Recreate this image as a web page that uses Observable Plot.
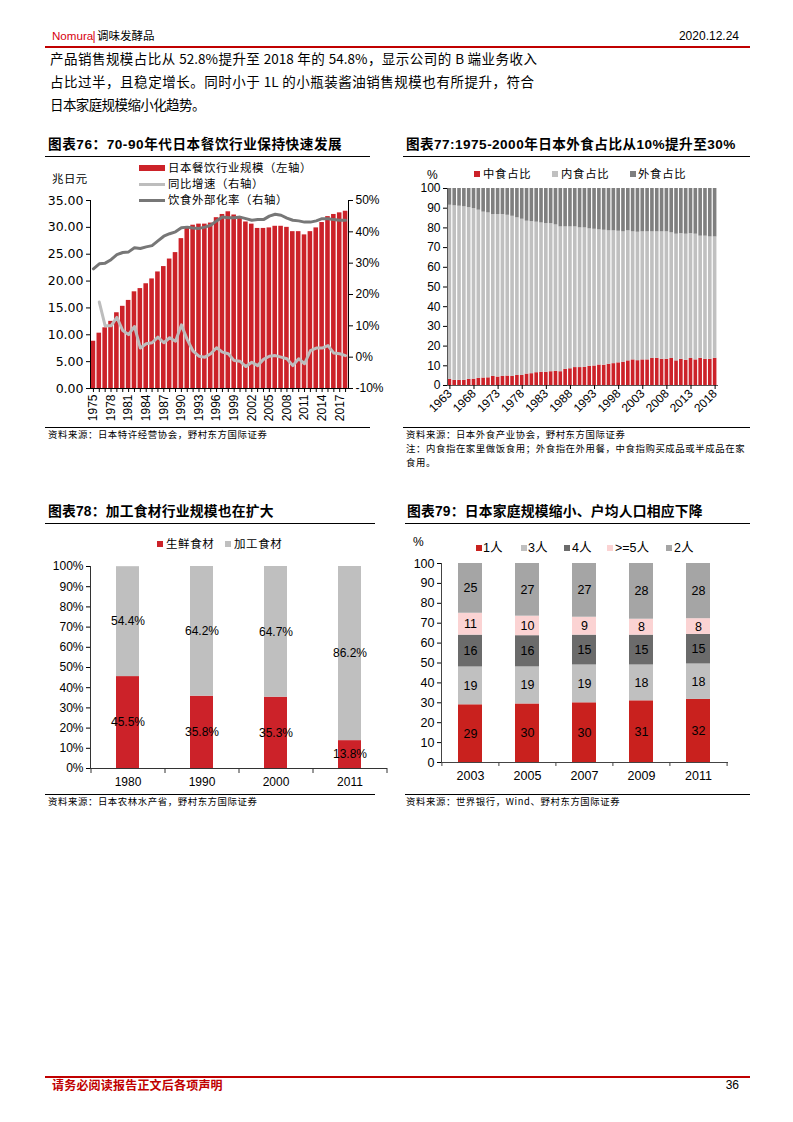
<!DOCTYPE html>
<html><head><meta charset="utf-8">
<script src="https://cdn.jsdelivr.net/npm/d3@7"></script>
<script src="https://cdn.jsdelivr.net/npm/@observablehq/plot@0.6"></script>
<style>
body{margin:0;background:#fff;}
#page{position:relative;width:793px;height:1122px;overflow:hidden;font-family:"Noto Sans CJK SC",sans-serif;color:#000;}
.abs{position:absolute;white-space:nowrap;line-height:1;}
.sw{position:absolute;}
.plotwrap{position:absolute;}
.plotwrap svg{max-width:none !important;overflow:visible;}
</style></head><body><div id="page"></div>
<script>
// ---------- Chart 76 data ----------
const years76 = [1975,1976,1977,1978,1979,1980,1981,1982,1983,1984,1985,1986,1987,1988,1989,1990,1991,1992,1993,1994,1995,1996,1997,1998,1999,2000,2001,2002,2003,2004,2005,2006,2007,2008,2009,2010,2011,2012,2013,2014,2015,2016,2017,2018];
const years76Lab = [1975,1978,1981,1984,1987,1990,1993,1996,1999,2002,2005,2008,2011,2014,2017];
const scale76 = [8.8,10.3,11.3,12.5,14.1,15.3,16.4,18.0,18.6,19.5,20.4,21.7,22.7,24.1,25.3,27.9,29.8,30.4,30.6,30.6,30.8,31.8,32.4,32.9,32.3,32.0,31.0,30.6,29.8,29.8,29.9,30.2,30.2,30.0,29.2,29.2,28.6,29.2,29.9,30.9,32.0,32.4,32.7,33.0];
const growth76 = [null,17.6,10.0,10.0,12.7,8.5,7.2,9.8,2.9,4.3,4.6,6.4,4.6,6.2,5.1,10.3,5.6,1.9,0.3,0.0,1.1,3.0,1.6,1.1,-1.1,-1.3,-3.0,-1.6,-2.7,-0.7,0.3,0.5,0.0,-0.5,-2.7,-0.5,-2.1,2.1,2.9,2.9,3.7,1.3,1.1,0.5];
const ratio76 = [28.2,29.8,30.0,31.1,32.7,33.4,33.6,34.9,34.7,35.2,35.6,37.1,38.6,39.4,40.0,41.3,41.5,41.2,41.1,41.5,42.1,43.5,44.7,44.5,44.5,44.7,44.2,43.7,43.9,43.9,45.0,45.6,45.3,44.4,43.7,43.5,43.1,43.1,43.5,44.2,44.2,43.9,43.7,43.7];
const ticks76L = [0,5,10,15,20,25,30,35];
const ticks76R = [-10,0,10,20,30,40,50];

// ---------- Chart 77 data ----------
const years77 = [1963,1964,1965,1966,1967,1968,1969,1970,1971,1972,1973,1974,1975,1976,1977,1978,1979,1980,1981,1982,1983,1984,1985,1986,1987,1988,1989,1990,1991,1992,1993,1994,1995,1996,1997,1998,1999,2000,2001,2002,2003,2004,2005,2006,2007,2008,2009,2010,2011,2012,2013,2014,2015,2016,2017,2018];
const years77Lab = [1963,1968,1973,1978,1983,1988,1993,1998,2003,2008,2013,2018];
const cats77 = ["中食占比","内食占比","外食占比"];
const colors77 = ["#cc2229","#c0c0c0","#7f7f7f"];
const mid77 = [3.1,2.6,2.6,2.6,3.1,3.2,3.6,3.8,3.9,4.6,4.3,4.6,4.8,4.6,5.1,5.1,5.8,6.0,6.5,6.7,6.7,7.0,7.2,7.0,8.2,8.5,9.1,9.1,9.2,9.7,9.9,10.4,10.3,10.8,11.1,11.5,11.8,12.5,13.0,12.6,13.0,13.0,13.7,13.8,13.3,13.3,13.7,12.5,13.3,12.8,13.7,13.0,13.8,13.3,13.3,13.8];
const inner77 = [88.4,88.6,88.4,88.1,87.2,86.6,85.4,84.2,83.7,82.2,82.5,82.2,81.6,81.3,80.0,79.3,77.6,77.2,76.4,75.8,75.5,75.2,74.3,73.5,72.3,72.0,71.4,70.9,70.8,69.8,69.4,68.6,68.5,67.7,67.4,66.8,66.2,66.0,65.0,65.2,65.0,65.0,64.3,64.2,64.7,64.7,63.8,64.3,63.8,64.0,63.4,63.8,62.0,62.5,62.1,61.6];
const outer77 = [8.5,8.8,9.0,9.3,9.7,10.2,11.0,12.0,12.4,13.2,13.2,13.2,13.6,14.1,14.9,15.6,16.6,16.8,17.1,17.5,17.8,17.8,18.5,19.5,19.5,19.5,19.5,20.0,20.0,20.5,20.7,21.0,21.2,21.5,21.5,21.7,22.0,21.5,22.0,22.2,22.0,22.0,22.0,22.0,22.0,22.0,22.5,23.2,22.9,23.2,22.9,23.2,24.2,24.2,24.6,24.6];
const ticks77 = [0,10,20,30,40,50,60,70,80,90,100];

// ---------- Chart 78 data ----------
const years78 = ["1980","1990","2000","2011"];
const cats78 = ["生鲜食材","加工食材"];
const colors78 = ["#cc2229","#bfbfbf"];
const fresh78 = [45.5,35.8,35.3,13.8];
const processed78 = [54.4,64.2,64.7,86.2];
const ticks78 = [0,10,20,30,40,50,60,70,80,90,100];

// ---------- Chart 79 data ----------
const years79 = ["2003","2005","2007","2009","2011"];
const cats79 = ["1人","3人","4人",">=5人","2人"];
const colors79 = ["#c9211e","#c0c0c0","#6b6b6b","#fbd3d3","#a5a5a5"];
const p1_79 = [29,30,30,31,32];
const p3_79 = [19,19,19,18,18];
const p4_79 = [16,16,15,15,15];
const p5_79 = [11,10,9,8,8];
const p2_79 = [25,27,27,28,28];
const ticks79 = [0,10,20,30,40,50,60,70,80,90,100];

// ---------- helpers ----------
const page = document.getElementById("page");
function txt(s, left, yc, size, css) {
  const d = document.createElement("div");
  d.className = "abs"; d.textContent = s;
  d.style.left = left + "px"; d.style.top = (yc - size/2) + "px"; d.style.fontSize = size + "px";
  if (css) d.style.cssText += css;
  page.appendChild(d); return d;
}
function txtR(s, right, yc, size, css) {
  const d = txt(s, 0, yc, size, css);
  d.style.left = ""; d.style.right = (793 - right) + "px"; return d;
}
function box(left, top, w, h, color) {
  const d = document.createElement("div"); d.className = "sw";
  d.style.cssText = `left:${left}px;top:${top}px;width:${w}px;height:${h}px;background:${color};`;
  page.appendChild(d); return d;
}
function put(svg, left, top) {
  const w = document.createElement("div"); w.className = "plotwrap";
  w.style.left = left + "px"; w.style.top = top + "px";
  w.appendChild(svg); page.appendChild(w);
}
const axisFont = "Liberation Sans, Arial, sans-serif";
const baseStyle = {fontFamily: axisFont, fontSize: "12px", color: "#000", background: "transparent", overflow: "visible"};
const yearFmt = d => String(d);

// ---------- header / body / footer ----------
txt("Nomura", 52, 36, 11.6, "font-family:'Liberation Sans',Arial;color:#d7000f;");
txt("|", 92.5, 36, 12, "font-family:'Liberation Sans',Arial;color:#d7000f;");
txt("调味发酵品", 97, 36, 11.5, "");
txtR("2020.12.24", 739, 36, 12, "font-family:'Liberation Sans',Arial;");
box(45, 45.5, 705, 2, "#c00000");
txt("产品销售规模占比从 52.8%提升至 2018 年的 54.8%，显示公司的 B 端业务收入", 50, 59, 13.5, "width:487px;text-align:justify;text-align-last:justify;");
txt("占比过半，且稳定增长。同时小于 1L 的小瓶装酱油销售规模也有所提升，符合", 50, 82, 13.5, "width:484px;text-align:justify;text-align-last:justify;");
txt("日本家庭规模缩小化趋势。", 50, 105, 13.5, "letter-spacing:-0.6px;");
box(45, 1075.5, 705, 2.5, "#c00000");
txt("请务必阅读报告正文后各项声明", 52, 1085, 12, "font-weight:700;color:#c00000;letter-spacing:0.2px;");
txtR("36", 739, 1085, 12, "font-family:'Liberation Sans',Arial;");

// ---------- titles & rules ----------
const titleCss = "font-weight:700;font-family:'Liberation Sans','Noto Sans CJK SC';";
txt("图表76：70-90年代日本餐饮行业保持快速发展", 48, 145, 13.6, titleCss + "letter-spacing:0.55px;");
box(45, 155.5, 325, 1.3, "#000");
txt("图表77:1975-2000年日本外食占比从10%提升至30%", 406, 145, 13.6, titleCss + "letter-spacing:0.45px;");
box(403, 155.5, 347, 1.3, "#000");
txt("图表78：加工食材行业规模也在扩大", 48, 512, 13.8, titleCss + "letter-spacing:0.2px;");
box(45, 522.5, 330, 1.3, "#000");
txt("图表79：日本家庭规模缩小、户均人口相应下降", 407, 512, 13.8, titleCss + "letter-spacing:0.2px;");
box(405, 522.5, 345, 1.3, "#000");

box(45, 426.5, 325, 1.2, "#000");
box(403, 426.5, 347, 1.2, "#000");
box(45, 793.5, 330, 1.2, "#000");
box(405, 794, 345, 1.2, "#000");
const srcCss = "letter-spacing:0.6px;";
txt("资料来源：日本特许经营协会，野村东方国际证券", 48, 435, 9.4, srcCss);
txt("资料来源：日本外食产业协会，野村东方国际证券", 406, 435, 9.4, srcCss);
txt("注：内食指在家里做饭食用；外食指在外用餐，中食指购买成品或半成品在家", 406, 449, 9.4, srcCss);
txt("食用。", 406, 463, 9.4, srcCss);
txt("资料来源：日本农林水产省，野村东方国际证券", 48, 802, 9.4, srcCss);
txt("资料来源：世界银行，Wind、野村东方国际证券", 406, 802, 9.4, srcCss);

// ---------- Chart 76 ----------
const d76 = years76.map((y, i) => ({year: y, v: scale76[i], g: growth76[i], r: ratio76[i]}));
const dims76 = {width: 345, height: 270, marginLeft: 50, marginRight: 37, marginTop: 40, marginBottom: 42};
const x76 = {type: "band", domain: years76, paddingInner: 0.22, paddingOuter: 0.11};
const p76a = Plot.plot({
  ...dims76, style: baseStyle, x: x76, y: {domain: [0, 35]},
  marks: [
    Plot.barY(d76, {x: "year", y: "v", fill: "#cc2229"}),
    Plot.frame({anchor: "left", stroke: "#000"}),
    Plot.frame({anchor: "bottom", stroke: "#000"}),
    Plot.axisY({ticks: ticks76L, tickFormat: d => d.toFixed(2), tickSize: 4, tickPadding: 3, label: null, fontFamily: "DejaVu Sans", fontSize: 12.5}),
    Plot.axisX({ticks: years76, tickSize: 4, tickFormat: () => "", label: null}),
    Plot.axisX({ticks: years76Lab, tickSize: 0, tickRotate: -90, tickPadding: 6, tickFormat: yearFmt, label: null, fontSize: 12})
  ]
});
put(p76a, 40, 160);
const p76b = Plot.plot({
  ...dims76, style: baseStyle, x: {...x76, axis: null}, y: {domain: [-10, 50]},
  marks: [
    Plot.frame({anchor: "right", stroke: "#000"}),
    Plot.axisY({anchor: "right", ticks: ticks76R, tickFormat: d => d + "%", tickSize: 4, tickPadding: 3, label: null, fontSize: 12}),
    Plot.lineY(d76, {x: "year", y: "g", stroke: "#bdbdbd", strokeWidth: 3}),
    Plot.lineY(d76, {x: "year", y: "r", stroke: "#777777", strokeWidth: 3})
  ]
});
put(p76b, 40, 160);
// legend 76
box(139, 164.5, 26, 6, "#cc2229");
txt("日本餐饮行业规模（左轴）", 168, 168, 11.4, "letter-spacing:0.6px;");
box(139, 182.5, 26, 3, "#bdbdbd");
txt("同比增速（右轴）", 168, 184, 11.4, "letter-spacing:0.6px;");
box(139, 198.5, 26, 3, "#777777");
txt("饮食外部化率（右轴）", 168, 200, 11.4, "letter-spacing:0.6px;");
txt("兆日元", 52, 179, 11.4, "letter-spacing:0.5px;");

// ---------- Chart 77 ----------
const long77 = [];
years77.forEach((y, i) => {
  long77.push({year: y, cat: cats77[0], v: mid77[i]});
  long77.push({year: y, cat: cats77[1], v: inner77[i]});
  long77.push({year: y, cat: cats77[2], v: outer77[i]});
});
const p77 = Plot.plot({
  width: 345, height: 250, marginLeft: 42, marginRight: 33, marginTop: 8, marginBottom: 45,
  style: baseStyle,
  x: {type: "band", domain: years77, paddingInner: 0.25, paddingOuter: 0.12},
  y: {domain: [0, 100]},
  color: {domain: cats77, range: colors77},
  marks: [
    Plot.barY(long77, {x: "year", y: "v", fill: "cat"}),
    Plot.frame({anchor: "left", stroke: "#555"}),
    Plot.frame({anchor: "bottom", stroke: "#555"}),
    Plot.axisY({ticks: ticks77, tickSize: 4, tickPadding: 3, label: null, fontSize: 12}),
    Plot.axisX({ticks: years77Lab, tickSize: 4, tickRotate: -45, tickPadding: 2, tickFormat: yearFmt, label: null, fontSize: 12})
  ]
});
put(p77, 405, 180);
txt("%", 427, 175, 12, "font-family:'Liberation Sans',Arial;");
box(474, 171, 6, 6, colors77[0]);
txt("中食占比", 483, 174, 11.3, "letter-spacing:0.8px;");
box(552, 171, 6, 6, colors77[1]);
txt("内食占比", 561, 174, 11.3, "letter-spacing:0.8px;");
box(630, 171, 6, 6, colors77[2]);
txt("外食占比", 638, 174, 11.3, "letter-spacing:0.8px;");

// ---------- Chart 78 ----------
const long78 = [];
years78.forEach((y, i) => {
  long78.push({year: y, cat: cats78[0], v: fresh78[i]});
  long78.push({year: y, cat: cats78[1], v: processed78[i]});
});
const p78 = Plot.plot({
  width: 350, height: 240, marginLeft: 45, marginRight: 9, marginTop: 11, marginBottom: 27,
  style: baseStyle,
  x: {type: "band", domain: years78, paddingInner: 0.69, paddingOuter: 0.345},
  y: {domain: [0, 100]},
  color: {domain: cats78, range: colors78},
  marks: [
    Plot.barY(long78, {x: "year", y: "v", fill: "cat"}),
    Plot.text(long78, Plot.stackY({x: "year", y: "v", text: d => d.v.toFixed(1) + "%", fontSize: 12, fill: "#000"})),
    Plot.frame({anchor: "left", stroke: "#333"}),
    Plot.frame({anchor: "bottom", stroke: "#333"}),
    Plot.axisY({ticks: ticks78, tickFormat: d => d + "%", tickSize: 4, tickPadding: 3, label: null, fontSize: 12}),
    Plot.axisX({ticks: years78, tickSize: 5, dx: -37, tickFormat: () => "", label: null, stroke: "#333"}),
    Plot.axisX({ticks: ["2011"], tickSize: 5, dx: 37, tickFormat: () => "", label: null, stroke: "#333"}),
    Plot.axisX({ticks: years78, tickSize: 0, tickPadding: 9, label: null, fontSize: 12})
  ]
});
put(p78, 45, 555);
box(157, 541, 6, 6, colors78[0]);
txt("生鲜食材", 166, 544, 11.5, "letter-spacing:0.6px;");
box(225, 541, 6, 6, colors78[1]);
txt("加工食材", 234, 544, 11.5, "letter-spacing:0.6px;");

// ---------- Chart 79 ----------
const long79 = [];
years79.forEach((y, i) => {
  long79.push({year: y, cat: cats79[0], v: p1_79[i]});
  long79.push({year: y, cat: cats79[1], v: p3_79[i]});
  long79.push({year: y, cat: cats79[2], v: p4_79[i]});
  long79.push({year: y, cat: cats79[3], v: p5_79[i]});
  long79.push({year: y, cat: cats79[4], v: p2_79[i]});
});
const p79 = Plot.plot({
  width: 345, height: 240, marginLeft: 41, marginRight: 18, marginTop: 8, marginBottom: 33,
  style: baseStyle,
  x: {type: "band", domain: years79, paddingInner: 0.587, paddingOuter: 0.2935},
  y: {percent: true, domain: [0, 100]},
  color: {domain: cats79, range: colors79},
  marks: [
    Plot.barY(long79, {x: "year", y: "v", fill: "cat", offset: "normalize"}),
    Plot.text(long79, Plot.stackY({x: "year", y: "v", offset: "normalize", text: "v", fontSize: 12.5, fill: "#000"})),
    Plot.frame({anchor: "left", stroke: "#444"}),
    Plot.frame({anchor: "bottom", stroke: "#444"}),
    Plot.axisY({ticks: ticks79, tickSize: 4, tickPadding: 3, label: null, fontSize: 12.5}),
    Plot.axisX({ticks: years79, tickSize: 4, dx: -28.6, tickFormat: () => "", label: null, stroke: "#444"}),
    Plot.axisX({ticks: ["2011"], tickSize: 4, dx: 28.6, tickFormat: () => "", label: null, stroke: "#444"}),
    Plot.axisX({ticks: years79, tickSize: 0, tickPadding: 9, label: null, fontSize: 12.5})
  ]
});
put(p79, 400, 555);
txt("%", 413, 542, 12, "font-family:'Liberation Sans',Arial;");
const leg79x = [[476, 483], [520.5, 528], [564, 572], [607, 615], [666, 674]];
cats79.forEach((c, i) => {
  box(leg79x[i][0], 545, 6, 6, colors79[i]);
  txt(c, leg79x[i][1], 548.5, 12.5, "font-family:'Liberation Sans','Noto Sans CJK SC';");
});
</script></body></html>
